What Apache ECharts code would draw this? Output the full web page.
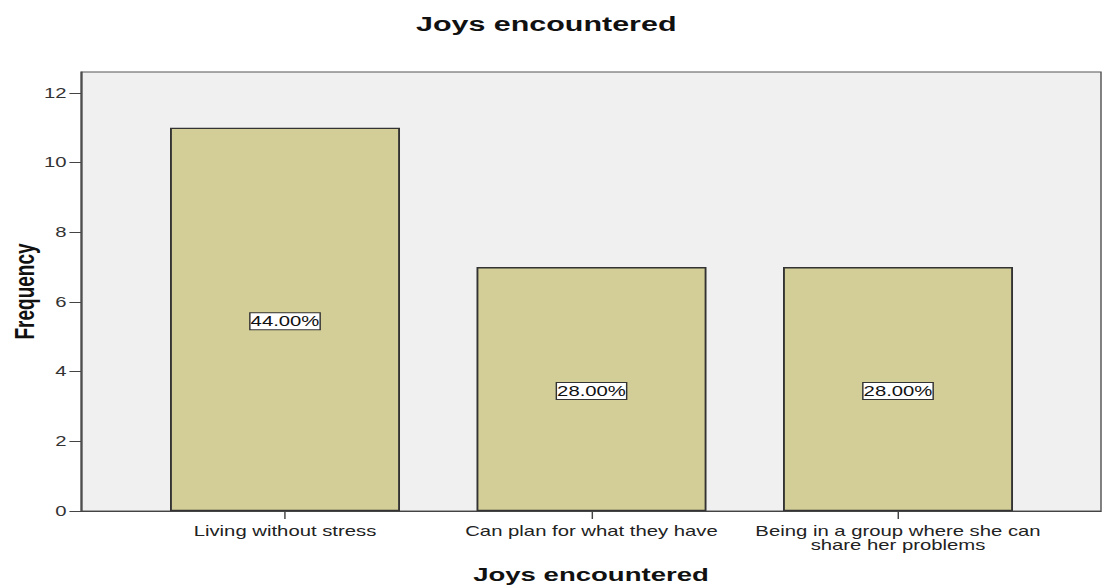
<!DOCTYPE html>
<html>
<head>
<meta charset="utf-8">
<script src="https://cdn.jsdelivr.net/npm/echarts@6/dist/echarts.min.js"></script>
<style>
html, body { margin: 0; padding: 0; background: #ffffff; overflow: hidden; }
#chart { height: 585px; transform-origin: 0 0; }
</style>
</head>
<body>
<div id="chart"></div>
<script>
// ---- data ----
const titleText = 'Joys encountered';
const xAxisTitle = 'Joys encountered';
const yAxisTitle = 'Frequency';
const categories = ['Living without stress', 'Can plan for what they have', 'Being in a group where she can\nshare her problems'];
const frequencies = [11, 7, 7];
const yTicks = [0, 2, 4, 6, 8, 10, 12];

// ---- layout (reference picture is stretched horizontally) ----
const SCALE = 1.45;
const W = 1109 / SCALE;
const el = document.getElementById('chart');
el.style.width = W + 'px';
el.style.transform = 'scaleX(' + SCALE + ')';

const total = frequencies.reduce((a, b) => a + b, 0);
const catIdx = categories.map((c, i) => i);
const FONT = 'Liberation Sans, Arial, sans-serif';

const chart = echarts.init(el, null, { renderer: 'svg', width: W, height: 585 });
chart.setOption({
  animation: false,
  backgroundColor: '#ffffff',
  title: {
    text: titleText,
    left: 539 / SCALE,
    textAlign: 'center',
    top: 8,
    textStyle: { fontFamily: FONT, fontWeight: 'bold', fontSize: 21, color: '#111' }
  },
  grid: {
    left: 81 / SCALE,
    right: 8 / SCALE,
    top: 72,
    bottom: 74,
    outerBoundsMode: 'none',
    containLabel: false,
    show: true,
    backgroundColor: '#f0f0f0',
    borderColor: '#555',
    borderWidth: 1
  },
  xAxis: {
    type: 'value',
    min: -0.6656,
    max: 2.6623,
    name: xAxisTitle,
    nameLocation: 'middle',
    nameGap: 54,
    nameMoveOverlap: false,
    nameTextStyle: { fontFamily: FONT, fontWeight: 'bold', fontSize: 19, color: '#111' },
    axisLine: { show: true, onZero: false, lineStyle: { color: '#444', width: 1 } },
    axisTick: { show: true, length: 8, customValues: catIdx, lineStyle: { color: '#444' } },
    axisLabel: {
      customValues: catIdx,
      margin: 13,
      fontFamily: FONT,
      fontSize: 14,
      lineHeight: 14,
      color: '#222',
      formatter: v => (categories[Math.round(v)] !== undefined && Math.abs(v - Math.round(v)) < 1e-6) ? categories[Math.round(v)] : ''
    },
    splitLine: { show: false }
  },
  yAxis: {
    type: 'value',
    min: 0,
    max: 12.6,
    name: yAxisTitle,
    nameLocation: 'middle',
    nameRotate: 90,
    nameGap: 29,
    nameMoveOverlap: false,
    nameTextStyle: { fontFamily: FONT, fontWeight: 'bold', fontSize: 19, color: '#111' },
    axisLine: { show: true, onZero: false, lineStyle: { color: '#444', width: 1 } },
    axisTick: { show: true, length: 8, customValues: yTicks, lineStyle: { color: '#444' } },
    axisLabel: {
      customValues: yTicks,
      margin: 10,
      fontFamily: FONT,
      fontSize: 14,
      color: '#333'
    },
    splitLine: { show: false }
  },
  series: [{
    type: 'bar',
    barWidth: 230 / SCALE,
    data: frequencies.map((v, i) => [i, v]),
    itemStyle: { color: '#d3ce97', borderColor: '#333', borderWidth: 1.3 },
    label: {
      show: true,
      position: 'inside',
      offset: [0, 2],
      formatter: p => (p.value[1] / total * 100).toFixed(2) + '%',
      fontFamily: FONT,
      fontSize: 14,
      lineHeight: 15,
      color: '#111',
      backgroundColor: '#ffffff',
      borderColor: '#333',
      borderWidth: 1,
      padding: [1, 0, 0, 0]
    }
  }]
});
</script>
</body>
</html>
